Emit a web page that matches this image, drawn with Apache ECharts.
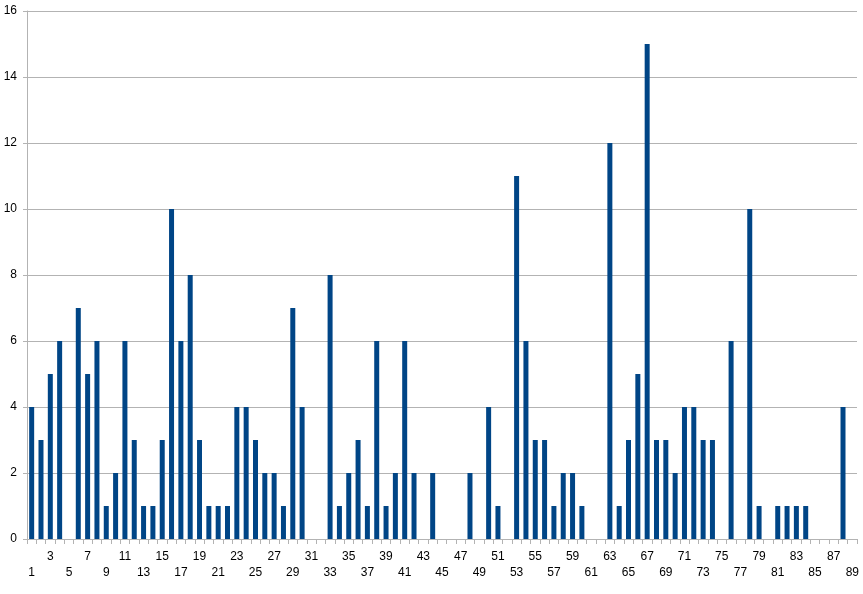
<!DOCTYPE html>
<html>
<head>
<meta charset="utf-8">
<script src="https://cdn.jsdelivr.net/npm/echarts@6/dist/echarts.min.js"></script>
<style>html,body{margin:0;padding:0;background:#fff}#c{width:863px;height:594px}</style>
</head>
<body>
<div id="c"></div>
<script>
const categories = [];
for (let i = 1; i <= 89; i++) categories.push(String(i));
const values = [4,3,5,6,0,7,5,6,1,2,6,3,1,1,3,10,6,8,3,1,1,1,4,4,3,2,2,1,7,4,0,0,8,1,2,3,1,6,1,2,6,2,0,2,0,0,0,2,0,4,1,0,11,6,3,3,1,2,2,1,0,0,12,1,3,5,15,3,3,2,4,4,3,3,0,6,0,10,1,0,1,1,1,1,0,0,0,4,0];
const yTicks = [0,2,4,6,8,10,12,14,16];

const chart = echarts.init(document.getElementById('c'));
chart.setOption({
  animation: false,
  grid: {left: 27, right: 6, top: 11, bottom: 55, containLabel: false},
  xAxis: {
    type: 'category',
    data: categories,
    boundaryGap: true,
    axisLine: {show: true, lineStyle: {color: '#b3b3b3'}},
    axisTick: {show: true, interval: 0, length: 5, lineStyle: {color: '#b3b3b3'}},
    axisLabel: {
      interval: 0,
      hideOverlap: false,
      margin: 10,
      fontFamily: 'Liberation Sans',
      fontSize: 12,
      color: '#000',
      lineHeight: 16,
      formatter: function (v) {
        const n = parseInt(v, 10);
        if (n % 2 === 0) return '';
        return ((n - 1) % 4 === 0) ? '\n' + v : v;
      }
    }
  },
  yAxis: {
    type: 'value',
    min: yTicks[0],
    max: yTicks[yTicks.length - 1],
    interval: 2,
    axisLine: {show: true, lineStyle: {color: '#b3b3b3'}},
    axisTick: {show: true, length: 4, lineStyle: {color: '#b3b3b3'}},
    splitLine: {show: true, lineStyle: {color: '#b3b3b3', width: 1}},
    axisLabel: {fontFamily: 'Liberation Sans', fontSize: 12, color: '#000', margin: 10}
  },
  series: [{
    type: 'bar',
    data: values,
    barWidth: 5,
    itemStyle: {color: '#004586'}
  }]
});
</script>
</body>
</html>
